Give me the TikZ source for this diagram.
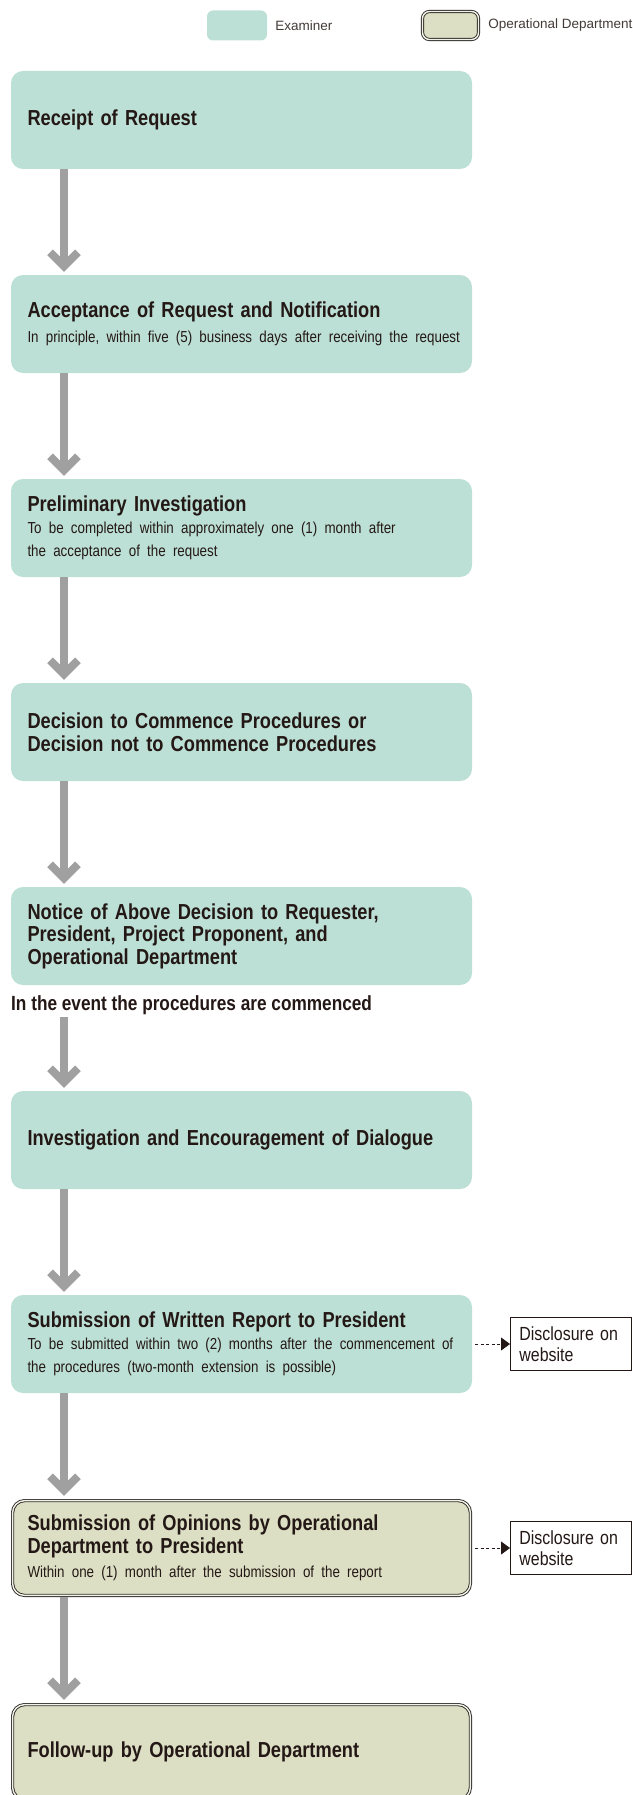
\documentclass[tikz,border=0pt]{standalone}
\usepackage{fontspec}
\setmainfont{Liberation Sans}
\newfontfamily\condfont[FakeStretch=0.84]{Liberation Sans}
\usetikzlibrary{arrows.meta,positioning,calc}
\definecolor{exfill}{HTML}{BDE0D6}
\definecolor{opfill}{HTML}{DDDFC4}
\definecolor{opline}{HTML}{2F2C28}
\definecolor{ink}{HTML}{231815}
\definecolor{shaftgray}{HTML}{A0A0A0}
\newcommand{\hdfont}{\condfont\bfseries\fontsize{21.7}{22.5}\selectfont}
\newcommand{\ntfont}{\par\vspace{2pt}\raggedright\hyphenpenalty=10000
  \condfont\mdseries\fontsize{15.9}{20}\selectfont}

\begin{document}
\begin{tikzpicture}[x=1pt,y=-1pt,text=ink,node distance=106pt,
  exam/.style={fill=exfill,rounded corners=12pt,outer sep=0pt,minimum width=461pt,minimum height=98pt,
    text width=428pt,inner xsep=16.5pt,inner ysep=2pt,align=left,font=\hdfont},
  oper/.style={exam,draw=opline,line width=0.9pt,double=opfill!40!white,double distance=1.4pt,fill=opfill,
    outer sep=1.6pt,minimum width=457.8pt,minimum height=94.8pt,inner xsep=14.9pt},
  disc/.style={draw=ink,line width=0.8pt,fill=white,text width=103pt,inner xsep=9pt,minimum height=53pt,
    align=left,font=\condfont\fontsize{19}{21}\selectfont},
  legend/.style={inner sep=0pt,text=ink!85,font=\fontsize{13.5}{16}\selectfont},
  shaft/.style={draw=shaftgray,line width=8pt},
  chev/.style={draw=shaftgray,line width=8pt,miter limit=4},
  weblink/.style={draw=ink,line width=0.8pt,dash pattern=on 3pt off 2.5pt,shorten <=3pt,-{Triangle[length=9pt,width=13pt]}}]
\def\sx{64}
\clip (0,0) rectangle (632,1795);
\fill[white] (0,0) rectangle (632,1795);
% legend
\node[fill=exfill,rounded corners=6pt,minimum width=60pt,minimum height=30pt] (lgex) at (237,25.5) {};
\node[legend,right=8pt of lgex] (lgextxt) {Examiner};
\node[draw=opline,line width=0.9pt,double=opfill!40!white,double distance=1.4pt,fill=opfill,rounded corners=7pt,
  minimum width=56pt,minimum height=28pt,outer sep=1.6pt] (lgop) at (450.5,25.5) {};
\node[legend,right=8pt of lgop] (lgoptxt) {Operational Department};
% steps
\node[exam] (recv) at (241.5,120) {Receipt of Request};
\node[exam,below=of recv] (accept) {Acceptance of Request and Notification\ntfont
  \mbox{In principle, within five (5) business days after receiving the request}};
\node[exam,below=of accept] (prelim) {Preliminary Investigation\ntfont
  To be completed within approximately one (1) month after\\the acceptance of the request};
\node[exam,below=of prelim] (decide) {Decision to Commence Procedures or\\Decision not to Commence Procedures};
\node[exam,below=of decide] (notice) {Notice of Above Decision to Requester,\\President, Project Proponent, and\\Operational Department};
\node[anchor=west,inner xsep=0pt,inner ysep=2pt,font=\condfont\bfseries\fontsize{20.5}{22}\selectfont] (evt)
  at ($(notice.south west)+(0,20)$) {In the event the procedures are commenced};
\node[exam,below=of notice] (invest) {Investigation and Encouragement of Dialogue};
\node[exam,below=of invest] (report) {Submission of Written Report to President\ntfont
  \mbox{To be submitted within two (2) months after the commencement of}\\the procedures (two-month extension is possible)};
\node[oper,below=of report] (opinion) {Submission of Opinions by Operational\\Department to President\ntfont
  Within one (1) month after the submission of the report};
\node[oper,below=of opinion] (follow) {Follow-up by Operational Department};
% disclosure
\node[disc,right=38pt of report] (web1) {Disclosure on\\website};
\node[disc,right=38pt of opinion] (web2) {Disclosure on\\website};
\draw[weblink] (report.east) -- (web1.west);
\draw[weblink] (opinion.east) -- (web2.west);
% flow arrows
\foreach \a/\b in {recv/accept,accept/prelim,prelim/decide,decide/notice,evt/invest,invest/report,report/opinion,opinion/follow} {
  \draw[shaft] (\sx,0 |- \a.south) -- ($(\sx,0 |- \b.north)+(0,-9)$);
  \draw[chev] ($(\sx,0 |- \b.north)+(-14,-22.7)$) -- ($(\sx,0 |- \b.north)+(0,-8.7)$) -- ($(\sx,0 |- \b.north)+(14,-22.7)$);
}
\end{tikzpicture}
\end{document}
